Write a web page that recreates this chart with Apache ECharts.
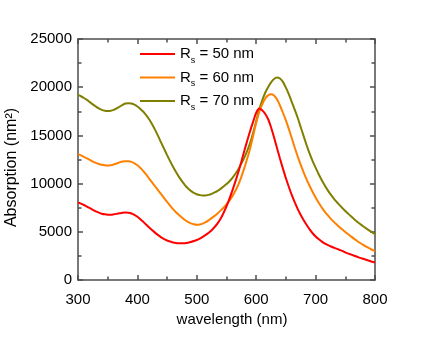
<!DOCTYPE html>
<html><head><meta charset="utf-8">
<script src="https://cdn.jsdelivr.net/npm/echarts@6/dist/echarts.min.js"></script>
<style>html,body{margin:0;padding:0;background:#fff}#c{width:436px;height:337px}</style>
</head><body><div id="c"></div>
<script>
const wavelength = [300,305,310,315,320,325,330,335,340,345,350,355,360,365,370,375,380,385,390,395,400,405,410,415,420,425,430,435,440,445,450,455,460,465,470,475,480,485,490,495,500,505,510,515,520,525,530,535,540,545,550,555,560,565,570,575,580,585,590,595,600,605,610,615,620,625,630,635,640,645,650,655,660,665,670,675,680,685,690,695,700,705,710,715,720,725,730,735,740,745,750,755,760,765,770,775,780,785,790,795,800];
const rs50 = [8050,7920,7780,7620,7450,7280,7120,6990,6880,6810,6780,6780,6810,6860,6920,6975,7000,6980,6900,6760,6560,6310,6030,5740,5440,5160,4890,4650,4430,4250,4100,3990,3900,3840,3810,3800,3820,3870,3950,4040,4150,4300,4480,4680,4900,5170,5500,5880,6350,6950,7650,8450,9300,10230,11200,12280,13400,14480,15500,16450,17350,17800,17600,17250,16700,15850,14800,13700,12600,11550,10550,9650,8800,8050,7350,6750,6200,5700,5250,4850,4520,4250,4010,3810,3640,3500,3370,3260,3140,3020,2860,2740,2630,2520,2410,2300,2200,2100,2000,1900,1810];
const rs60 = [13050,12920,12780,12620,12450,12290,12150,12040,11950,11900,11880,11910,11980,12080,12200,12290,12330,12320,12250,12110,11900,11630,11300,10920,10500,10100,9700,9300,8900,8500,8100,7720,7350,7030,6750,6480,6230,6030,5880,5780,5730,5760,5850,6000,6200,6420,6650,6910,7200,7510,7850,8240,8700,9260,9900,10700,11600,12620,13700,15000,16300,17400,18200,18800,19150,19280,19150,18750,18100,17350,16550,15650,14700,13720,12800,11950,11150,10420,9750,9130,8550,8030,7550,7130,6750,6400,6080,5780,5500,5230,4980,4740,4500,4270,4050,3840,3650,3470,3300,3140,3000];
const rs70 = [19200,19060,18880,18680,18450,18220,18000,17800,17650,17560,17530,17560,17650,17800,17980,18170,18300,18340,18300,18190,18000,17750,17450,17080,16650,16130,15550,14920,14250,13600,12950,12330,11750,11200,10700,10250,9850,9520,9250,9050,8900,8810,8760,8770,8830,8940,9080,9250,9450,9690,9950,10250,10600,11020,11500,12070,12700,13420,14250,15300,16500,17650,18600,19400,20000,20500,20850,21000,20900,20550,19950,19250,18450,17650,16800,15850,14900,13970,13100,12330,11650,11000,10400,9850,9350,8900,8500,8130,7800,7470,7150,6860,6580,6310,6050,5810,5580,5360,5150,4950,4750];
const seriesNames = ['Rs = 50 nm','Rs = 60 nm','Rs = 70 nm'];
const seriesColors = ['#ff0000','#ff8000','#808000'];
const xLabelName = 'wavelength (nm)';
const yLabelName = 'Absorption (nm\u00B2)';

const FONT = 'Liberation Sans, Arial, sans-serif';
const AXIS_COLOR = '#4d4d4d';
function pairs(vals){ return wavelength.map((w,i)=>[w, vals[i]]); }
const allVals = [rs50, rs60, rs70];

const chart = echarts.init(document.getElementById('c'), null, {renderer:'canvas'});
function axisCommon(){
  return {
    axisLine:{show:true, onZero:false, lineStyle:{color:AXIS_COLOR, width:1.5}},
    axisTick:{show:true, inside:true, length:5, lineStyle:{color:AXIS_COLOR, width:1.5}},
    minorTick:{show:true, splitNumber:2, length:3.5, lineStyle:{color:AXIS_COLOR, width:1.5}},
    splitLine:{show:false}, minorSplitLine:{show:false}
  };
}
const option = {
  animation:false,
  backgroundColor:'#ffffff',
  grid:{left:78, right:61, top:39, bottom:57, containLabel:false, outerBoundsMode:'none'},
  legend:{
    orient:'vertical', left:135, top:38,
    icon:'rect', itemWidth:35, itemHeight:2.2, itemGap:1.5,
    data:seriesNames,
    formatter: n => n.replace('Rs', 'R{s|s}'),
    textStyle:{fontFamily:FONT, fontSize:15, color:'#000', lineHeight:22,
      rich:{s:{fontFamily:FONT, fontSize:9, color:'#000', verticalAlign:'bottom', lineHeight:9}}}
  },
  xAxis:[
    Object.assign(axisCommon(), {type:'value', position:'bottom', min:300, max:800, interval:100,
      name:xLabelName, nameLocation:'middle', nameGap:26,
      nameTextStyle:{fontFamily:FONT, fontSize:15, color:'#000', padding:[0,0,0,11]},
      axisLabel:{show:true, margin:12, fontFamily:FONT, fontSize:15, color:'#000', formatter: v => String(v)}}),
    Object.assign(axisCommon(), {type:'value', position:'top', min:300, max:800, interval:100,
      axisLabel:{show:false}})
  ],
  yAxis:[
    Object.assign(axisCommon(), {type:'value', position:'left', min:0, max:25000, interval:5000,
      name:yLabelName, nameLocation:'middle', nameGap:44, nameRotate:90,
      nameTextStyle:{fontFamily:FONT, fontSize:16, color:'#000', padding:[0,16,0,0]},
      axisLabel:{show:true, margin:6, fontFamily:FONT, fontSize:15, color:'#000', formatter: v => String(v)}}),
    Object.assign(axisCommon(), {type:'value', position:'right', min:0, max:25000, interval:5000,
      axisLabel:{show:false}})
  ],
  series: seriesNames.map((n,i)=>({
    name:n, type:'line', xAxisIndex:0, yAxisIndex:0,
    data:pairs(allVals[i]), smooth:0.3, showSymbol:false, symbol:'none',
    lineStyle:{color:seriesColors[i], width:2}, itemStyle:{color:seriesColors[i]},
    z: 3 - i
  }))
};
chart.setOption(option);
</script>
</body></html>
